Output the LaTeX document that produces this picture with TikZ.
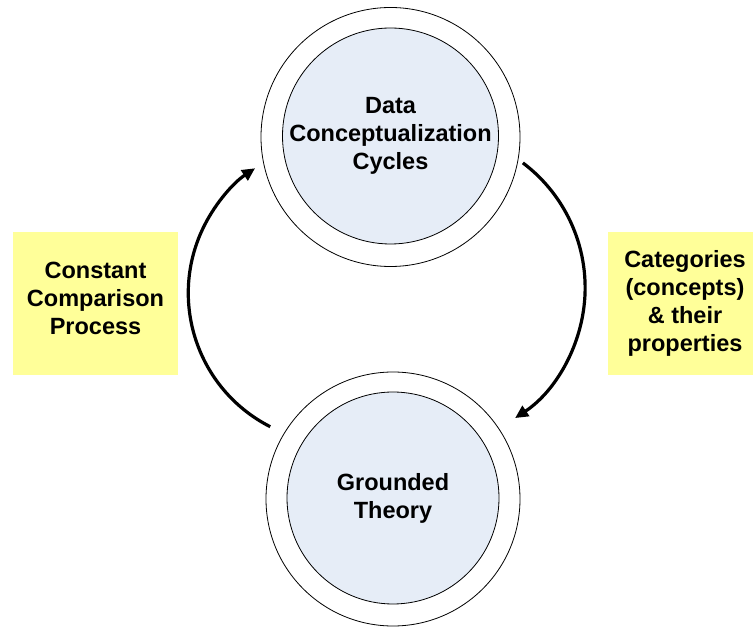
\documentclass[tikz,border=0pt]{standalone}
\usepackage{fontspec}
\setmainfont{Liberation Sans}
\usetikzlibrary{arrows.meta}
\definecolor{circfill}{RGB}{230,237,247}
\definecolor{noteyellow}{RGB}{255,255,153}
\tikzset{
  outerring/.style={circle, draw=black, line width=0.8pt, fill=white, inner sep=0pt},
  innerdisc/.style={circle, draw=black, line width=0.8pt, fill=circfill, inner sep=0pt,
    align=center, font=\bfseries\fontsize{23.5}{28}\selectfont},
  notebox/.style={fill=noteyellow, draw=none, inner sep=0pt},
  notetext/.style={align=center, font=\bfseries\fontsize{23.5}{28}\selectfont},
  cyclearrow/.style={line width=3.2pt, -{Triangle[length=13pt,width=12pt]}}
}
\begin{document}
\begin{tikzpicture}[x=1pt,y=1pt]
\useasboundingbox (0,0) rectangle (753,627);
% circles
\node[outerring, minimum size=259pt] (topO) at (390.5,490) {};
\node[innerdisc, minimum size=216pt] (topI) at (390.5,491) {Data\\Conceptualization\\Cycles};
\node[outerring, minimum size=254pt] (botO) at (393,128) {};
\node[innerdisc, minimum size=212pt] (botI) at (393,129) {Grounded\\Theory};
% note boxes
\node[notebox, minimum width=165pt, minimum height=143pt] (leftbox) at (95.5,323.5) {};
\node[notetext] (lefttext) at (95.5,329) {Constant\\Comparison\\Process};
\node[notebox, minimum width=150pt, minimum height=143pt, anchor=west] (rightbox) at (608,323.5) {};
\node[notetext] (righttext) at (685,324) {Categories\\(concepts)\\\& their\\properties};
% connectors
\coordinate (ls) at (270.2,200.3);
\coordinate (rs) at (522.9,464.1);
\draw[cyclearrow] (ls) arc[start angle=243, end angle=123.7, radius=150];
\draw[cyclearrow] (rs) arc[start angle=53, end angle=-56.5, radius=156.3];
\end{tikzpicture}
\end{document}
